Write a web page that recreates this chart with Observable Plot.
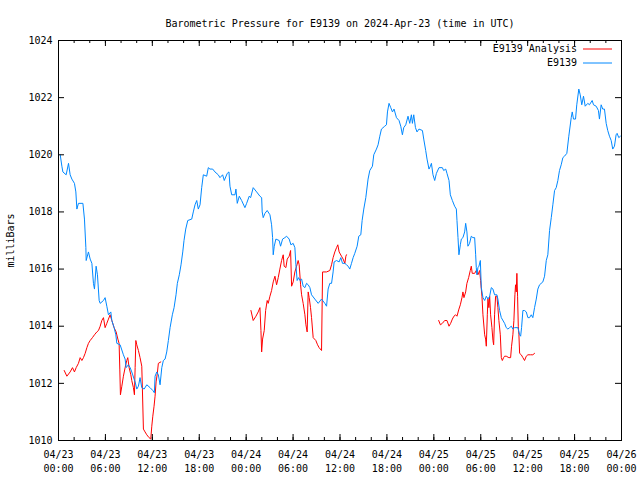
<!DOCTYPE html>
<html><head><meta charset="utf-8">
<script src="https://cdn.jsdelivr.net/npm/d3@7"></script>
<script src="https://cdn.jsdelivr.net/npm/@observablehq/plot@0.6"></script>
<style>
html,body{margin:0;padding:0;background:#fff;}
#chart svg{display:block;}
</style></head><body><div id="chart"></div>
<script>
const title = "Barometric Pressure for E9139 on 2024-Apr-23 (time in UTC)";
const yLabel = "milliBars";
const seriesNames = ["E9139 Analysis", "E9139"];
const seriesColors = ["#ff0000", "#0088ff"];
const startUTC = Date.UTC(2024, 3, 23);
const xTickHours = [0, 6, 12, 18, 24, 30, 36, 42, 48, 54, 60, 66, 72];
const xMinorHours = [0,2,4,6,8,10,12,14,16,18,20,22,24,26,28,30,32,34,36,38,40,42,44,46,48,50,52,54,56,58,60,62,64,66,68,70,72];
const yTicks = [1010, 1012, 1014, 1016, 1018, 1020, 1022, 1024];

// E9139 observations: hours since 2024-04-23 00:00 UTC, pressure in mbar
const obsHours = [0.22,0.43,0.56,0.98,1.28,1.49,1.71,2.04,2.22,2.35,2.55,3.12,3.32,3.5,3.54,3.83,4.05,4.27,4.47,4.6,4.81,4.98,5.2,5.33,5.75,5.96,6.18,6.39,6.69,6.82,7.11,7.33,7.46,7.88,8.3,8.52,8.65,8.94,9.16,9.37,9.67,9.8,10.01,10.22,10.43,10.65,10.95,11.29,11.71,12.06,12.26,12.35,12.57,12.77,12.99,13.21,13.41,13.63,13.84,14.05,14.27,14.56,14.78,15.03,15.2,15.45,15.67,15.89,16.05,16.27,16.53,17.04,17.24,17.46,17.68,17.88,18.1,18.31,18.52,18.95,19.16,19.37,19.72,20.01,20.43,20.65,20.99,21.2,21.58,21.8,21.93,22.15,22.57,22.69,22.86,23.12,23.42,23.84,24.06,24.39,24.57,24.9,25.34,25.76,25.98,26.05,26.18,26.4,26.69,27.04,27.25,27.38,27.46,27.59,27.8,28.22,28.4,28.66,28.95,29.17,29.5,29.72,30.01,30.23,30.36,30.52,30.7,30.87,31.09,31.29,31.51,31.72,31.93,32.15,32.36,32.78,33.21,33.64,34.06,34.28,34.48,34.7,34.92,35.12,35.25,35.56,35.89,36.1,36.32,36.62,36.83,37.04,37.25,37.47,37.68,37.89,38.19,38.4,38.66,38.83,39.04,39.3,39.59,39.81,40.15,40.32,40.66,40.87,41.09,41.3,41.72,41.94,42.07,42.27,42.49,42.71,42.91,43.22,43.55,43.77,43.98,44.15,44.41,44.7,44.92,45.13,45.26,45.43,45.65,45.85,46.1,46.54,46.71,46.96,47.13,47.38,47.56,47.69,47.89,48.11,48.33,48.66,49.09,49.26,49.52,49.68,49.94,50.11,50.37,50.66,50.88,50.96,51.09,51.21,51.39,51.52,51.72,51.94,52.07,52.23,52.36,52.57,52.79,53.0,53.22,53.35,53.43,53.51,53.64,53.77,53.95,54.07,54.28,54.5,54.71,54.92,55.14,55.35,55.56,55.77,56.07,56.19,56.41,56.63,57.05,57.26,57.47,57.69,57.91,58.11,58.33,58.75,58.97,59.1,59.22,59.39,59.6,59.82,60.03,60.24,60.46,60.66,60.88,61.1,61.3,61.52,61.94,62.16,62.38,62.58,62.8,63.02,63.22,63.44,63.65,63.86,64.07,64.29,64.5,64.71,65.01,65.26,65.57,65.7,65.86,66.12,66.28,66.54,66.72,66.92,67.14,67.36,67.69,67.9,68.25,68.42,68.76,69.05,69.18,69.4,69.6,69.82,70.04,70.24,70.46,70.68,70.88,71.1,71.31,71.44,71.65,71.86];
const obsMbar = [1020.0,1019.6,1019.4,1019.3,1019.7,1019.3,1019.15,1019.0,1018.7,1018.1,1018.3,1018.3,1017.75,1016.75,1016.3,1016.6,1016.35,1016.2,1015.5,1015.3,1016.1,1015.8,1014.9,1014.8,1014.9,1015.0,1014.7,1014.4,1014.5,1014.2,1013.95,1013.7,1013.4,1013.35,1013.0,1012.85,1012.55,1012.65,1012.55,1012.4,1012.15,1012.05,1011.8,1011.9,1012.2,1011.85,1011.8,1011.95,1011.85,1011.75,1011.67,1012.25,1012.4,1012.3,1011.95,1012.55,1012.8,1012.85,1013.1,1013.5,1013.95,1014.4,1014.65,1015.1,1015.5,1015.8,1016.15,1016.6,1017.0,1017.4,1017.7,1017.75,1018.0,1018.25,1018.4,1018.1,1018.25,1018.85,1019.3,1019.25,1019.55,1019.5,1019.5,1019.4,1019.3,1019.2,1019.3,1019.1,1019.35,1019.4,1018.9,1018.6,1018.6,1018.8,1018.3,1018.55,1018.4,1018.15,1018.3,1018.55,1018.5,1018.85,1018.7,1018.55,1018.5,1018.0,1017.8,1017.95,1018.05,1017.9,1017.55,1017.1,1016.5,1016.8,1017.05,1017.0,1016.8,1017.05,1017.1,1017.15,1017.05,1016.85,1016.9,1016.75,1016.15,1015.6,1015.7,1015.6,1015.65,1015.4,1015.35,1015.5,1015.45,1015.35,1015.1,1014.95,1014.8,1014.95,1014.8,1014.7,1015.3,1015.5,1015.5,1015.9,1016.25,1016.3,1016.25,1016.4,1016.2,1016.2,1016.15,1016.1,1016.0,1016.2,1016.4,1016.55,1016.8,1017.15,1017.2,1017.7,1018.1,1018.5,1019.15,1019.45,1019.6,1020.0,1020.2,1020.35,1020.65,1020.9,1021.0,1021.05,1021.5,1021.8,1021.65,1021.5,1021.6,1021.3,1021.2,1021.0,1020.7,1020.95,1021.05,1021.35,1021.1,1021.4,1021.1,1021.4,1020.95,1020.8,1020.9,1020.85,1020.55,1020.15,1019.85,1019.5,1019.6,1019.7,1019.3,1019.1,1019.35,1019.55,1019.55,1019.45,1019.5,1019.35,1019.1,1018.6,1018.4,1018.2,1018.1,1017.7,1017.1,1016.5,1016.85,1017.05,1017.1,1017.3,1017.6,1017.3,1016.8,1016.9,1017.15,1017.1,1017.1,1016.5,1016.05,1015.8,1016.05,1016.1,1016.3,1015.35,1015.0,1014.9,1015.05,1014.95,1015.05,1015.35,1015.3,1015.1,1015.1,1014.95,1014.55,1014.3,1014.1,1013.95,1013.9,1013.95,1014.0,1013.9,1013.95,1013.95,1013.7,1013.65,1013.95,1014.55,1014.55,1014.5,1014.3,1014.3,1014.4,1014.3,1014.65,1014.95,1015.3,1015.45,1015.55,1015.75,1016.3,1016.5,1017.35,1017.8,1018.25,1018.75,1018.85,1019.1,1019.45,1019.65,1019.9,1019.95,1020.05,1020.65,1021.3,1021.5,1021.25,1021.25,1021.75,1022.3,1022.1,1021.75,1022.05,1021.7,1021.8,1021.75,1021.9,1021.75,1021.7,1021.55,1021.25,1021.75,1021.6,1021.6,1021.1,1020.85,1020.65,1020.5,1020.2,1020.3,1020.7,1020.75,1020.6,1020.65];

// E9139 Analysis: three runs, null separates them
const anaHours = [0.73,1.07,1.49,1.79,2.04,2.26,2.55,2.77,2.99,3.19,3.41,3.63,3.83,4.05,4.34,4.6,4.9,5.11,5.33,5.54,5.75,5.96,6.18,6.39,6.6,6.82,7.11,7.37,7.59,7.75,7.84,7.92,8.1,8.3,8.52,8.73,8.86,9.03,9.25,9.37,9.58,9.71,9.8,9.89,10.01,10.22,10.43,10.65,10.73,10.86,11.07,11.29,11.58,11.8,11.93,12.06,12.22,12.35,12.48,12.64,12.77,13.08,
  18,
  24.61,24.9,25.25,25.54,25.76,25.89,25.98,26.1,26.31,26.49,26.69,26.82,27.04,27.25,27.46,27.68,27.89,28.1,28.31,28.53,28.74,28.86,29.08,29.25,29.5,29.68,29.81,30.01,30.23,30.45,30.65,30.78,30.96,31.09,31.29,31.51,31.64,31.8,31.93,32.06,32.23,32.36,32.57,32.91,33.13,33.33,33.64,33.77,34.28,34.7,34.92,35.12,35.34,35.56,35.72,35.89,36.19,36.4,36.62,36.75,36.83,
  42,
  48.62,48.84,49.09,49.39,49.68,49.94,50.15,50.37,50.57,50.79,50.96,51.21,51.39,51.6,51.72,51.85,52.07,52.23,52.45,52.66,52.79,52.91,53.22,53.43,53.64,53.86,53.98,54.15,54.28,54.5,54.62,54.71,54.84,54.92,55.04,55.14,55.26,55.43,55.56,55.65,55.77,55.9,56.07,56.19,56.32,56.5,56.63,56.76,56.92,57.05,57.26,57.6,57.82,57.94,58.11,58.24,58.37,58.45,58.54,58.62,58.71,58.8,58.88,58.97,59.18,59.39,59.6,59.82,60.03,60.37,60.66,60.88];
const anaMbar = [1012.45,1012.25,1012.4,1012.55,1012.4,1012.55,1012.7,1012.9,1012.8,1012.9,1013.05,1013.25,1013.4,1013.5,1013.6,1013.7,1013.8,1013.85,1014.0,1014.2,1014.3,1013.95,1014.1,1014.25,1014.4,1014.2,1013.95,1013.8,1013.55,1013.4,1012.5,1011.6,1011.9,1012.25,1012.55,1012.8,1012.9,1012.55,1012.3,1012.1,1011.85,1011.6,1012.55,1013.5,1013.35,1013.15,1012.9,1012.6,1011.8,1010.4,1010.3,1010.2,1010.1,1010.05,1010.5,1010.85,1011.2,1011.55,1012.05,1012.35,1012.7,1012.75,
  null,
  1014.55,1014.2,1014.35,1014.5,1014.65,1013.85,1013.1,1013.55,1013.85,1014.55,1014.9,1014.8,1015.05,1015.25,1015.55,1015.75,1015.45,1015.7,1016.0,1016.3,1016.5,1016.1,1016.05,1016.35,1016.45,1016.65,1015.4,1015.55,1015.9,1016.1,1016.3,1016.15,1015.45,1015.1,1014.8,1014.4,1014.05,1013.8,1015.2,1015.0,1014.65,1014.3,1013.6,1013.5,1013.35,1013.25,1013.15,1015.9,1015.9,1015.95,1016.15,1016.4,1016.6,1016.75,1016.85,1016.6,1016.45,1016.35,1016.2,1016.45,1016.5,
  null,
  1014.2,1014.05,1014.1,1014.2,1014.2,1014.0,1014.1,1014.25,1014.35,1014.4,1014.35,1014.6,1014.75,1015.0,1015.2,1015.0,1015.2,1015.5,1015.7,1015.95,1016.1,1015.85,1015.85,1015.95,1015.8,1015.95,1015.6,1015.05,1014.4,1013.7,1013.55,1013.3,1014.4,1014.95,1014.65,1015.05,1014.4,1013.95,1013.5,1013.35,1014.4,1015.05,1015.05,1014.65,1014.2,1013.7,1012.9,1012.8,1012.9,1012.95,1012.95,1012.9,1012.9,1013.3,1013.7,1014.2,1015.1,1015.45,1015.2,1015.85,1015.05,1014.0,1013.7,1013.05,1013.0,1012.9,1012.8,1012.95,1013.0,1013.0,1013.0,1013.05];

const toDate = h => new Date(startUTC + h * 3600e3);
const obs = obsHours.map((h, i) => ({t: toDate(h), p: obsMbar[i]}));
const ana = anaHours.map((h, i) => ({t: toDate(h), p: anaMbar[i]}));
const xMajor = xTickHours.map(toDate);
const xMinor = xMinorHours.map(toDate);
const fmt = d3.utcFormat("%m/%d\n%H:%M");

const W = 640, H = 480, mL = 58, mR = 19, mT = 40, mB = 40;
const innerW = W - mL - mR, innerH = H - mT - mB;
const font = "'DejaVu Sans Mono', 'Liberation Mono', monospace";

const plot = Plot.plot({
  width: W, height: H,
  marginLeft: mL, marginRight: mR, marginTop: mT, marginBottom: mB,
  style: {fontFamily: font, fontSize: "10px", color: "#000", background: "#fff", overflow: "visible"},
  x: {type: "utc", domain: [toDate(0), toDate(72)]},
  y: {domain: [1010, 1024]},
  marks: [
    Plot.line(ana, {x: "t", y: "p", stroke: seriesColors[0], strokeWidth: 1}),
    Plot.line(obs, {x: "t", y: "p", stroke: seriesColors[1], strokeWidth: 1}),
    Plot.tickX(xMinor, {x: d => d, stroke: "#000", insetTop: innerH - 3}),
    Plot.tickX(xMinor, {x: d => d, stroke: "#000", insetBottom: innerH - 3}),
    Plot.tickX(xMajor, {x: d => d, stroke: "#000", insetTop: innerH - 6}),
    Plot.tickX(xMajor, {x: d => d, stroke: "#000", insetBottom: innerH - 6}),
    Plot.tickY(yTicks, {y: d => d, stroke: "#000", insetRight: innerW - 6}),
    Plot.tickY(yTicks, {y: d => d, stroke: "#000", insetLeft: innerW - 6}),
    Plot.frame({stroke: "#000"}),
    Plot.axisX({ticks: xMajor, tickFormat: fmt, tickSize: 0, tickPadding: 8, lineHeight: 1.35, label: null, fontSize: 10}),
    Plot.axisY({ticks: yTicks, tickFormat: d => String(d), tickSize: 0, tickPadding: 6, label: yLabel, labelAnchor: "center", labelArrow: "none", labelOffset: 52, fontSize: 10}),
    Plot.text([title], {text: d => d, frameAnchor: "top", dy: -21, fontSize: 10})
  ]
});

const svg = d3.select(plot);
const legend = svg.append("g").attr("font-family", font).attr("font-size", 10);
seriesNames.forEach((name, i) => {
  const y = 49 + i * 14;
  legend.append("text").attr("x", 577).attr("y", y).attr("text-anchor", "end")
    .attr("dominant-baseline", "middle").attr("fill", "#000").text(name);
  legend.append("line").attr("x1", 583).attr("x2", 612).attr("y1", y).attr("y2", y)
    .attr("stroke", seriesColors[i]).attr("stroke-width", 1);
});
document.getElementById("chart").appendChild(plot);
</script></body></html>
